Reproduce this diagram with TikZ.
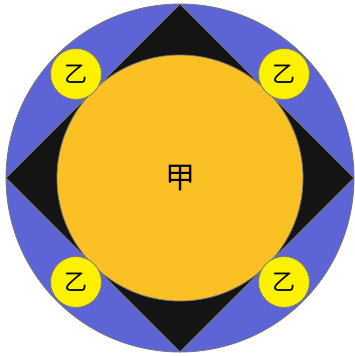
\documentclass[tikz,border=0pt]{standalone}
\usepackage{fontspec}
\newfontfamily\cjk{Noto Sans CJK SC}
\definecolor{ringblue}{RGB}{92,100,214}
\definecolor{darkfill}{RGB}{20,20,20}
\definecolor{orangefill}{RGB}{251,192,36}
\definecolor{yellowfill}{RGB}{252,242,0}
\definecolor{edgegray}{RGB}{120,120,120}
\begin{document}
\begin{tikzpicture}[x=1pt,y=-1pt,
  edge/.style={draw=edgegray,line width=0.8pt},
  smallc/.style={circle,edge,fill=yellowfill,minimum size=51pt,inner sep=0pt,font=\cjk\fontsize{23}{23}\selectfont},
  bigc/.style={circle,edge,fill=orangefill,minimum size=246pt,inner sep=0pt,font=\cjk\fontsize{30}{30}\selectfont}]
\useasboundingbox (0,0) rectangle (355,356);
\coordinate (c) at (180,178);
\node[circle,edge,fill=ringblue,minimum size=348pt,inner sep=0pt] (outer) at (c) {};
\coordinate (t) at (180,4);
\coordinate (r) at (354,178);
\coordinate (b) at (180,352);
\coordinate (l) at (6,178);
\draw[edge,fill=darkfill] (t) -- (r) -- (b) -- (l) -- cycle;
\node[bigc] (jia) at (c) {甲};
\node[smallc] (y1) at (76,74) {乙};
\node[smallc] (y2) at (284,74) {乙};
\node[smallc] (y3) at (76,282) {乙};
\node[smallc] (y4) at (284,282) {乙};
\end{tikzpicture}
\end{document}
